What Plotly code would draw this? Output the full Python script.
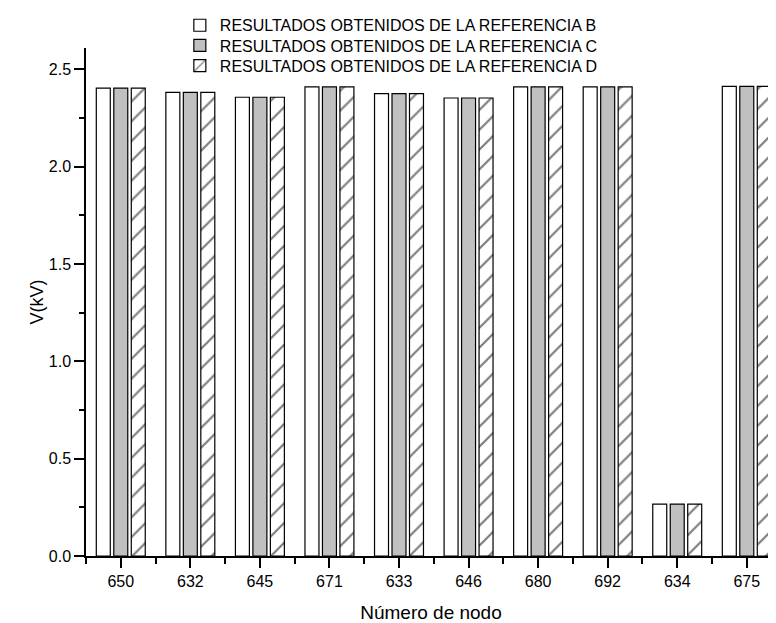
import plotly.graph_objects as go

nodes = ["650", "632", "645", "671", "633", "646", "680", "692", "634", "675"]
ref_b = [2.404, 2.382, 2.357, 2.410, 2.376, 2.353, 2.410, 2.410, 0.267, 2.413]
ref_c = [2.404, 2.382, 2.357, 2.410, 2.376, 2.353, 2.410, 2.410, 0.267, 2.413]
ref_d = [2.404, 2.382, 2.357, 2.410, 2.376, 2.353, 2.410, 2.410, 0.267, 2.413]
names = ["RESULTADOS OBTENIDOS DE LA REFERENCIA B",
         "RESULTADOS OBTENIDOS DE LA REFERENCIA C",
         "RESULTADOS OBTENIDOS DE LA REFERENCIA D"]
y_ticks = [0.0, 0.5, 1.0, 1.5, 2.0, 2.5]

xpos = list(range(len(nodes)))
FONT = "Liberation Sans, Arial, sans-serif"
LINE = dict(color="black", width=1.2)

fig = go.Figure()
fig.add_trace(go.Bar(x=xpos, y=ref_b, name=names[0], legend="legend",
                     marker=dict(color="white", line=LINE)))
fig.add_trace(go.Bar(x=xpos, y=ref_c, name=names[1], legend="legend2",
                     marker=dict(color="#c0c0c0", line=LINE)))
fig.add_trace(go.Bar(x=xpos, y=ref_d, name=names[2], legend="legend3",
                     marker=dict(color="white", line=LINE,
                                 pattern=dict(shape="/", fgcolor="black", bgcolor="white",
                                              size=14, solidity=0.16))))

def leg(y):
    return dict(x=0.136, y=y, xanchor="left", yanchor="middle",
                bgcolor="rgba(0,0,0,0)", font=dict(size=16, family=FONT, color="black"))

fig.update_layout(
    width=768, height=615,
    margin=dict(l=78, r=0, t=32, b=67),
    paper_bgcolor="white", plot_bgcolor="white",
    barmode="group", bargap=0.246, bargroupgap=0.2,
    font=dict(family=FONT, color="black", size=16),
    showlegend=True,
    legend=leg(1.0446),
    legend2=leg(1.0048),
    legend3=leg(0.9651),
)
fig.update_xaxes(
    range=[-0.5, 9.42], tickmode="array", tickvals=xpos, ticktext=nodes,
    showline=True, linecolor="black", linewidth=1.5, mirror=False,
    ticks="outside", ticklen=10, tickwidth=1.5, tickcolor="black",
    tickfont=dict(size=16, family=FONT),
    minor=dict(ticks="outside", tick0=0.5, dtick=1, ticklen=6, tickwidth=1.5, tickcolor="black"),
    showgrid=False, zeroline=False, automargin=False,
    title=dict(text="Número de nodo", font=dict(size=19, family=FONT), standoff=18),
)
fig.update_yaxes(
    range=[0, 2.61], tickmode="array", tickvals=y_ticks,
    ticktext=[f"{v:.1f}" for v in y_ticks],
    showline=True, linecolor="black", linewidth=1.5, mirror=False,
    ticks="outside", ticklen=10, tickwidth=1.5, tickcolor="black",
    tickfont=dict(size=16, family=FONT),
    minor=dict(ticks="outside", tick0=0.25, dtick=0.5, ticklen=5, tickwidth=1.5, tickcolor="black"),
    showgrid=False, zeroline=False, automargin=False,
    title=dict(text="V(kV)", font=dict(size=18, family=FONT), standoff=0),
)

fig.write_html("out.html")
